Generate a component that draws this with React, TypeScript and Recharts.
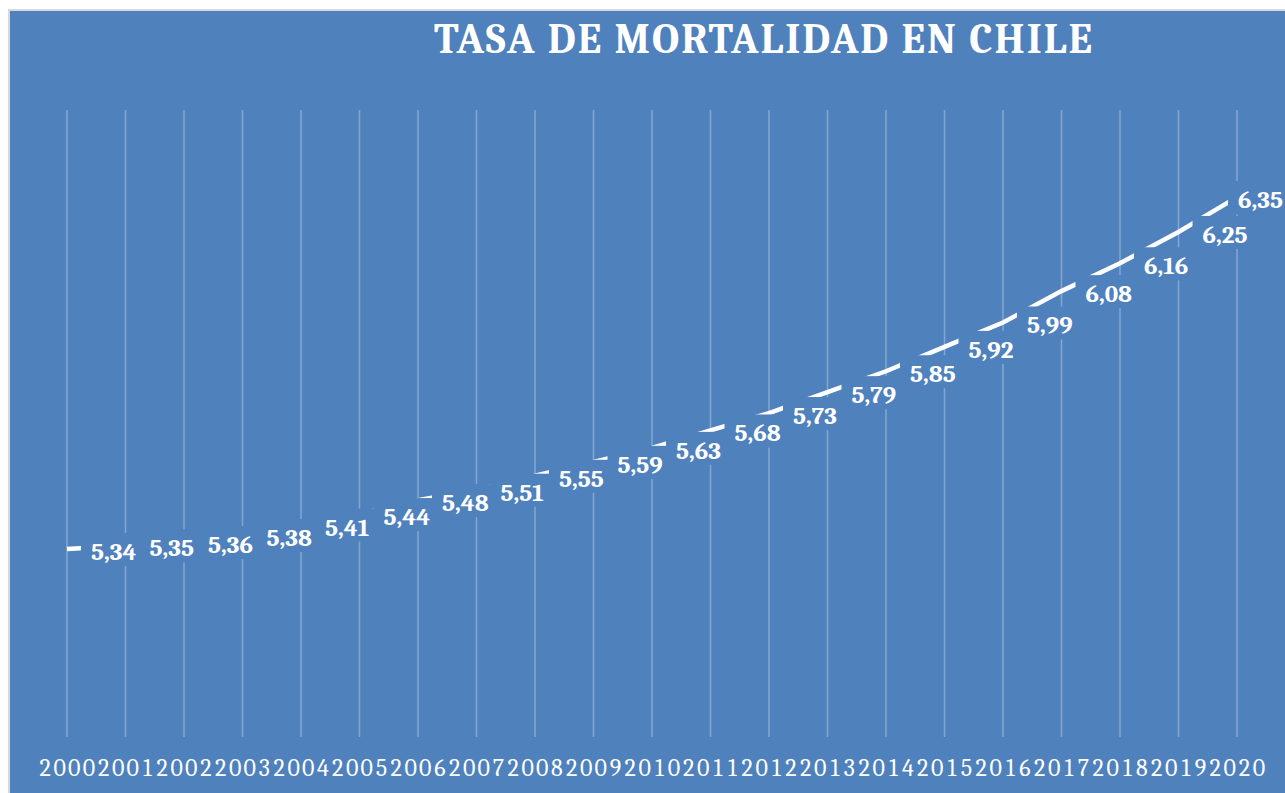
import { CartesianGrid, LabelList, Line, LineChart, XAxis, YAxis } from "recharts";

const years = [
  2000, 2001, 2002, 2003, 2004, 2005, 2006, 2007, 2008, 2009, 2010,
  2011, 2012, 2013, 2014, 2015, 2016, 2017, 2018, 2019, 2020,
];
const tasa = [
  5.34, 5.35, 5.36, 5.38, 5.41, 5.44, 5.48, 5.51, 5.55, 5.59, 5.63,
  5.68, 5.73, 5.79, 5.85, 5.92, 5.99, 6.08, 6.16, 6.25, 6.35,
];
const title = "TASA DE MORTALIDAD EN CHILE";

const BG = "#4F81BD";
const SERIF = "Cambria, 'Liberation Serif', serif";
const W = 1275;
const H = 782;

const data = years.map((y, i) => ({ year: y, tasa: tasa[i] }));

function fmt(v: number) {
  return v.toFixed(2).replace(".", ",");
}

// each digit gets the same cell, like the tabular figures of the original
function YearTick(props: any) {
  const { x, y, payload } = props;
  const chars = String(payload.value).split("");
  const cell = 14.6;
  return (
    <text y={y} dy={31} textAnchor="middle" fill="#fff" fontSize={24} fontFamily={SERIF}>
      {chars.map((c, k) => (
        <tspan key={k} x={x + (k - (chars.length - 1) / 2) * cell}>
          {c}
        </tspan>
      ))}
    </text>
  );
}

// label sits right of the point on a box of the background colour,
// pushed back inside the chart when it would run off the right edge
function ValueLabel(props: any) {
  const { x, y, value } = props;
  if (x == null || y == null) return null;
  const tx = Math.min(x + 24, W - 47);
  return (
    <g>
      <rect x={tx - 10} y={y - 16} width={61} height={33} fill={BG} />
      <text x={tx} y={y + 11} fill="#fff" fontSize={25} fontWeight="bold" fontFamily={SERIF}>
        {fmt(value)}
      </text>
    </g>
  );
}

export default function App() {
  return (
    <div style={{ position: "fixed", left: 0, top: 0, width: 1285, height: 793, background: "#fff" }}>
      <div
        style={{
          position: "absolute",
          left: 8,
          top: 9,
          width: 1277,
          height: 784,
          background: "#d9d9d9",
        }}
      />
      <div
        style={{
          position: "absolute",
          left: 10,
          top: 11,
          width: W,
          height: H,
          background: BG,
          overflow: "hidden",
        }}
      >
        <svg width={W} height={80} style={{ position: "absolute", left: 0, top: 0 }}>
          <text
            x={424}
            y={42}
            fill="#fff"
            fontSize={42}
            fontWeight="bold"
            fontFamily={SERIF}
            textLength={658}
            lengthAdjust="spacing"
          >
            {title}
          </text>
        </svg>
        <LineChart
          width={W}
          height={H}
          data={data}
          margin={{ top: 99, right: 48, left: 57, bottom: 0 }}
        >
          <CartesianGrid horizontal={false} stroke="rgba(255,255,255,0.3)" strokeWidth={1.5} />
          <XAxis
            dataKey="year"
            type="number"
            domain={[2000, 2020]}
            ticks={years}
            interval={0}
            axisLine={false}
            tickLine={false}
            height={56}
            tick={<YearTick />}
          />
          <YAxis hide domain={[4.8, 6.6]} />
          <Line
            type="linear"
            dataKey="tasa"
            stroke="#fff"
            strokeWidth={4.5}
            dot={false}
            isAnimationActive={false}
          >
            <LabelList dataKey="tasa" content={<ValueLabel />} />
          </Line>
        </LineChart>
      </div>
    </div>
  );
}
